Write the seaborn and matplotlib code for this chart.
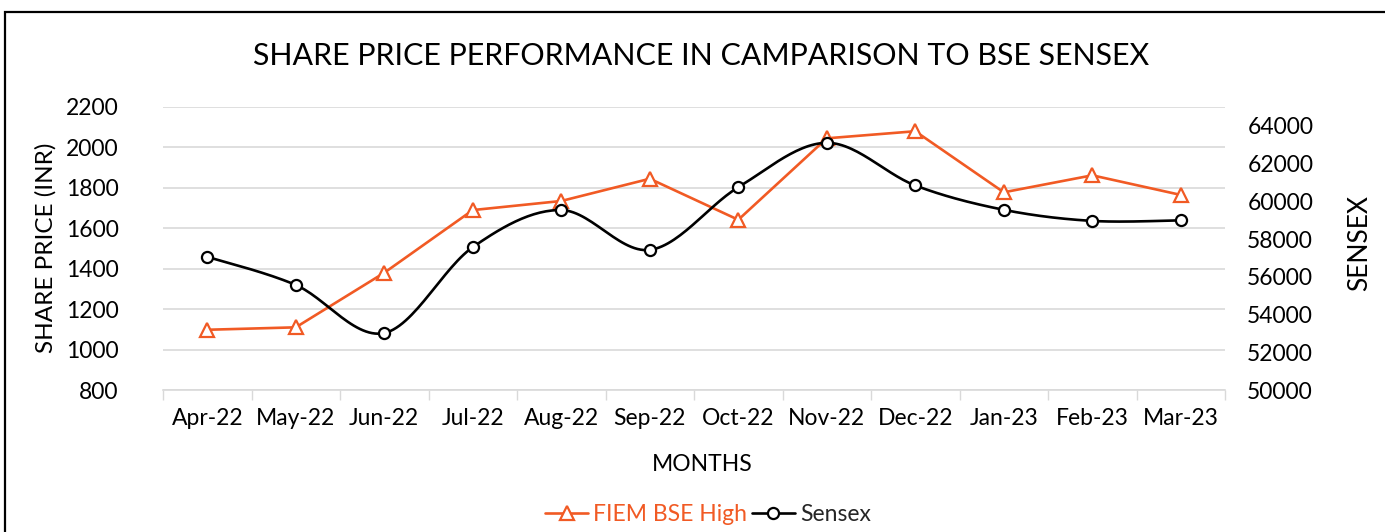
import numpy as np
import pandas as pd
import seaborn as sns
import matplotlib.pyplot as plt
from matplotlib.lines import Line2D
from matplotlib.patches import Rectangle

months = ['Apr-22', 'May-22', 'Jun-22', 'Jul-22', 'Aug-22', 'Sep-22',
          'Oct-22', 'Nov-22', 'Dec-22', 'Jan-23', 'Feb-23', 'Mar-23']
fiem_high = [1098, 1110, 1380, 1690, 1735, 1845, 1642, 2045, 2080, 1778, 1862, 1765]
sensex = [57060, 55566, 53019, 57570, 59537, 57427, 60747, 63100, 60841, 59550, 58962, 58992]

ORANGE = '#F15A24'
GRID = '#D9D9D9'

sns.set_theme(style='white')
plt.rcParams['font.family'] = ['Lato', 'DejaVu Sans']


def smooth_curve(y, n=30):
    # Excel-style smoothed line (cubic Bezier through the points)
    y = np.asarray(y, dtype=float)
    x = np.arange(len(y), dtype=float)
    px = np.concatenate([[x[0]], x, [x[-1]]])
    py = np.concatenate([[y[0]], y, [y[-1]]])
    xs, ys = [], []
    t = np.linspace(0, 1, n)
    for i in range(len(y) - 1):
        p0 = np.array([px[i + 1], py[i + 1]])
        p3 = np.array([px[i + 2], py[i + 2]])
        c1 = p0 + (np.array([px[i + 2], py[i + 2]]) - np.array([px[i], py[i]])) / 6
        c2 = p3 - (np.array([px[i + 3], py[i + 3]]) - np.array([px[i + 1], py[i + 1]])) / 6
        b = ((1 - t) ** 3)[:, None] * p0 + (3 * (1 - t) ** 2 * t)[:, None] * c1 \
            + (3 * (1 - t) * t ** 2)[:, None] * c2 + (t ** 3)[:, None] * p3
        xs.extend(b[:, 0])
        ys.extend(b[:, 1])
    return np.array(xs), np.array(ys)


df = pd.DataFrame({'idx': np.arange(len(months)), 'month': months,
                   'fiem': fiem_high, 'sensex': sensex})

fig = plt.figure(figsize=(13.85, 5.32), dpi=100)
ax = fig.add_axes([0.1177, 0.2669, 0.7668, 0.532])
ax2 = ax.twinx()

# left axis: FIEM share price
sns.lineplot(data=df, x='idx', y='fiem', ax=ax, color=ORANGE, linewidth=1.9,
             marker='^', markersize=10.5, markerfacecolor='white',
             markeredgecolor=ORANGE, markeredgewidth=1.6, zorder=3)

# right axis: Sensex, smoothed line
sx, sy = smooth_curve(sensex)
sns.lineplot(x=sx, y=sy, ax=ax2, color='black', linewidth=1.9, sort=False,
             estimator=None, zorder=3)
ax2.plot(df['idx'], df['sensex'], linestyle='none', marker='o', markersize=8,
         markerfacecolor='white', markeredgecolor='black', markeredgewidth=1.6,
         zorder=4)

ax.set_xlim(-0.5, len(months) - 0.5)
ax.set_ylim(800, 2200)
ax.set_yticks(np.arange(800, 2201, 200))
ax2.set_ylim(50000, 65000)
ax2.set_yticks(np.arange(50000, 64001, 2000))

ax.set_xticks(df['idx'])
ax.set_xticklabels(months)
ax.set_xticks(np.arange(-0.5, len(months), 1), minor=True)
ax.tick_params(axis='x', which='major', length=0, pad=13, labelsize=16.5,
               colors='black')
ax.tick_params(axis='x', which='minor', length=7, width=1, color=GRID,
               direction='out', bottom=True)
ax.tick_params(axis='y', length=0, pad=32, labelsize=16.5, colors='black')
ax2.tick_params(axis='y', length=0, pad=16, labelsize=16.5, colors='black')

ax.grid(axis='y', color=GRID, linewidth=1.2)
ax.set_axisbelow(True)
for s in ['left', 'right', 'top']:
    ax.spines[s].set_visible(False)
for s in ['left', 'right', 'top', 'bottom']:
    ax2.spines[s].set_visible(False)
ax.spines['bottom'].set_color(GRID)
ax.spines['bottom'].set_linewidth(1.2)
ax.set_xlabel('')
ax.set_ylabel('')
ax2.set_xlabel('')
ax2.set_ylabel('')

fig.text(0.506, 0.895, 'SHARE PRICE PERFORMANCE IN CAMPARISON TO BSE SENSEX',
         ha='center', va='center', fontsize=21.9, color='black')
fig.text(0.033, 0.534, 'SHARE PRICE (INR)', rotation=90, ha='center',
         va='center', fontsize=17.5, color='black')
fig.text(0.982, 0.543, 'SENSEX', rotation=90, ha='center', va='center',
         fontsize=19, color='black')
fig.text(0.507, 0.126, 'MONTHS', ha='center', va='center', fontsize=16.5,
         color='black')

handles = [
    Line2D([], [], color=ORANGE, linewidth=1.9, marker='^', markersize=10,
           markerfacecolor='white', markeredgecolor=ORANGE, markeredgewidth=1.6),
    Line2D([], [], color='black', linewidth=1.9, marker='o', markersize=8,
           markerfacecolor='white', markeredgecolor='black', markeredgewidth=1.6),
]
leg = fig.legend(handles, ['FIEM BSE High', 'Sensex'], loc='center',
                 bbox_to_anchor=(0.511, 0.032), ncol=2, frameon=False,
                 fontsize=16.5, handlelength=1.9, handletextpad=0.2,
                 columnspacing=0.2)
leg.get_texts()[0].set_color(ORANGE)

# outer frame of the chart area
fig.patches.append(Rectangle((5 / 1385, -0.1), 1.1, 1.1 - 12 / 532,
                             transform=fig.transFigure, fill=False,
                             edgecolor='black', linewidth=1.6))

fig.savefig('out.png', dpi=100)
